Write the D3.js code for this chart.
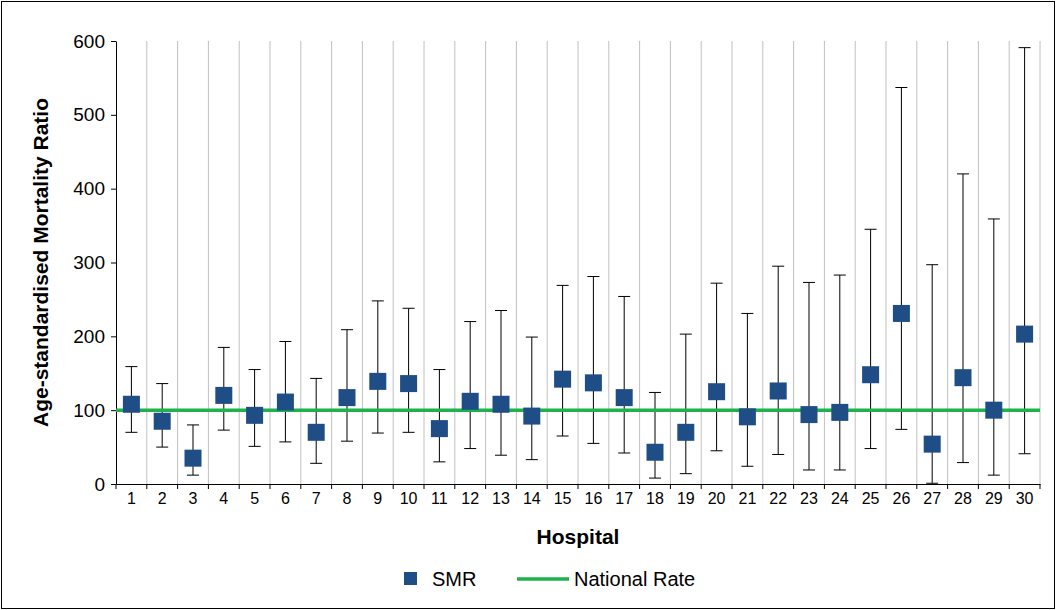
<!DOCTYPE html><html><head><script src="https://cdn.jsdelivr.net/npm/d3@7"></script>
<style>body{margin:0}text{font-family:"Liberation Sans",Arial,sans-serif}</style></head><body><script>
const hospitals=d3.range(1,31).map(String);
const smr=[108,85,35,120,93,111,70,117,139,136,75,112,108,92,142,137,117,43,70,125,91,126,94,97,148,231,54,144,100,203];
const lower=[70,50,12,73,51,57,28,58,69,70,30,48,39,33,65,55,42,8,14,45,24,40,19,19,48,74,1,29,12,41];
const upper=[159,136,80,185,155,193,143,209,248,238,155,220,235,199,269,281,254,124,203,272,231,295,273,283,345,537,297,420,359,591];
const nationalRate=100;
const yTicks=[0,100,200,300,400,500,600];
const W=1056,H=610,L=116,R=1040,T=41,B=484;
const svg=d3.select("body").append("svg").attr("width",W).attr("height",H);
svg.append("rect").attr("x",1.5).attr("y",1.5).attr("width",W-3).attr("height",H-3).attr("fill","#fff").attr("stroke","#000");
const x=d3.scaleBand().domain(hospitals).range([L,R]);
const y=d3.scaleLinear().domain([0,600]).range([B,T]);
svg.append("g").selectAll("line").data(hospitals.slice(1)).join("line")
 .attr("x1",d=>x(d)).attr("x2",d=>x(d)).attr("y1",T).attr("y2",B).attr("stroke","#c0c0c0");
svg.append("line").attr("x1",R).attr("x2",R).attr("y1",T).attr("y2",B).attr("stroke","#c0c0c0");
const ya=svg.append("g").attr("transform",`translate(${L},0)`).call(d3.axisLeft(y).tickValues(yTicks).tickSize(5).tickSizeOuter(0).tickPadding(6));
ya.selectAll("text").attr("font-size",19).attr("fill","#000");
const xa=svg.append("g").attr("transform",`translate(0,${B})`).call(d3.axisBottom(x).tickSize(0).tickSizeOuter(0).tickPadding(9));
xa.selectAll("text").attr("font-size",16).attr("fill","#000");
svg.selectAll(".domain").attr("stroke","#000");
xa.append("g").selectAll("line").data(hospitals).join("line").attr("x1",d=>x(d)).attr("x2",d=>x(d)).attr("y1",0).attr("y2",5).attr("stroke","#000");
xa.append("line").attr("x1",R).attr("x2",R).attr("y1",0).attr("y2",5).attr("stroke","#000");
const cx=d=>x(d)+x.bandwidth()/2;
const g=svg.append("g");
hospitals.forEach((h,i)=>{
 g.append("line").attr("x1",cx(h)).attr("x2",cx(h)).attr("y1",y(lower[i])).attr("y2",y(upper[i])).attr("stroke","#000");
 [lower[i],upper[i]].forEach(v=>g.append("line").attr("x1",cx(h)-6).attr("x2",cx(h)+6).attr("y1",y(v)).attr("y2",y(v)).attr("stroke","#000"));
});
svg.append("line").attr("x1",L).attr("x2",R).attr("y1",y(nationalRate)).attr("y2",y(nationalRate)).attr("stroke","#1db24a").attr("stroke-width",3.5);
hospitals.forEach((h,i)=>svg.append("rect").attr("x",cx(h)-8.5).attr("y",y(smr[i])-8.5).attr("width",17).attr("height",17).attr("fill","#1f4e87"));
svg.append("text").attr("x",(L+R)/2).attr("y",544).attr("text-anchor","middle").attr("font-size",21).attr("font-weight","bold").text("Hospital");
svg.append("text").attr("transform",`translate(48,${(T+B)/2}) rotate(-90)`).attr("text-anchor","middle").attr("font-size",21).attr("font-weight","bold").text("Age-standardised Mortality Ratio");
svg.append("rect").attr("x",404).attr("y",572).attr("width",13).attr("height",13).attr("fill","#1f4e87");
svg.append("text").attr("x",432).attr("y",586).attr("font-size",20).text("SMR");
svg.append("line").attr("x1",517).attr("x2",569).attr("y1",579).attr("y2",579).attr("stroke","#1db24a").attr("stroke-width",3.5);
svg.append("text").attr("x",574).attr("y",586).attr("font-size",20).text("National Rate");
</script></body></html>
